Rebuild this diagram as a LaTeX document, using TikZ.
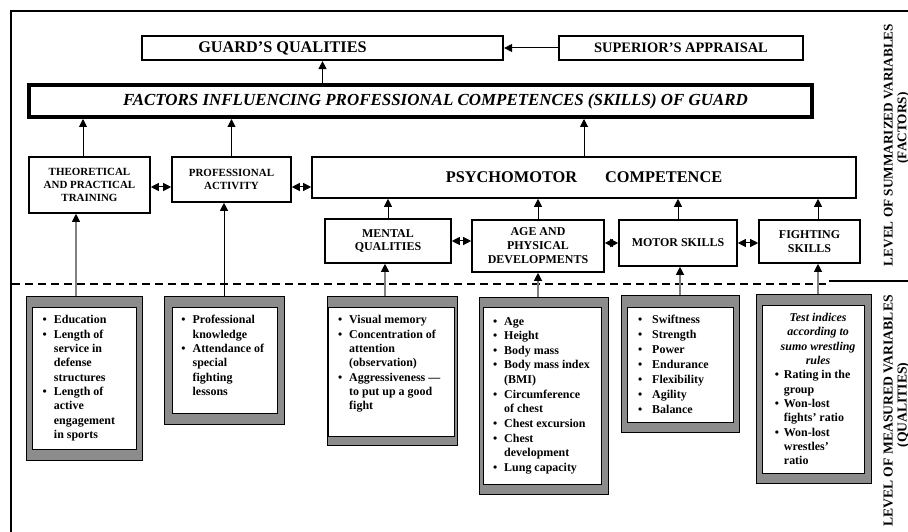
\documentclass[tikz,border=0pt]{standalone}
\usepackage{fontspec}
\setmainfont{Liberation Serif}
\usepackage{tikz}
\usetikzlibrary{arrows.meta, positioning}

\tikzset{
  box/.style={draw, line width=1.6bp, align=center, inner sep=0pt},
  head/.style={box, font=\bfseries\fontsize{11}{13}\selectfont},
  part/.style={box, font=\bfseries\fontsize{12}{14}\selectfont},
  up/.style={-{Triangle[length=8bp,width=8bp]}, line width=1bp},
  feed/.style={-{Triangle[length=8bp,width=8bp,color=black]}, line width=1.1bp, black!50},
  both/.style={{Triangle[length=8bp,width=8bp]}-{Triangle[length=8bp,width=8bp]}, line width=1bp},
  frame/.style={draw, line width=0.9bp, fill=black!45, inner sep=0pt},
  sheet/.style={draw, line width=0.9bp, fill=white, inner sep=0pt},
  list/.style={anchor=north west, inner sep=0pt, font=\bfseries\fontsize{12}{14.4}\selectfont},
  level/.style={rotate=90, align=center, inner sep=0pt},
}

\begin{document}
\begin{tikzpicture}[x=1bp, y=-1bp]
\useasboundingbox (0,0) rectangle (908,532);
% frame and the border between the two levels
\draw[line width=2bp] (11,532) -- (11,11) -- (908,11);
\draw[line width=2bp, dash pattern=on 8bp off 5bp] (12,284) -- (828,284);
\draw[line width=2.2bp] (829,281) -- (908,281);

% level of summarized variables
\node[box, line width=2.2bp, minimum width=361bp, minimum height=24bp, font=\bfseries\fontsize{16.3}{19}\selectfont] (guard) at (322.5,48) {GUARD'S QUALITIES\hspace*{80bp}};
\node[box, line width=2.2bp, minimum width=244bp, minimum height=24bp, font=\bfseries\fontsize{14.5}{17}\selectfont] (sup) at (681,48) {SUPERIOR'S APPRAISAL};
\node[box, line width=4bp, minimum width=783bp, minimum height=32bp, font=\bfseries\itshape\fontsize{17}{20}\selectfont] (fac) at (420.5,101) {\hspace*{30bp}FACTORS INFLUENCING PROFESSIONAL COMPETENCES (SKILLS) OF GUARD};

\node[head, minimum width=121bp, minimum height=56bp] (theo) at (89.5,185) {THEORETICAL\\AND PRACTICAL\\TRAINING};
\node[head, minimum width=119bp, minimum height=45bp] (prof) at (231.5,179.5) {PROFESSIONAL\\ACTIVITY};
\node[box, minimum width=544bp, minimum height=41bp, font=\bfseries\fontsize{16.4}{19}\selectfont] (psy) at (584,177.5) {PSYCHOMOTOR\hspace{28bp}COMPETENCE};

\node[part, minimum width=126bp, minimum height=44bp] (ment) at (388,241) {MENTAL\\QUALITIES};
\node[part, minimum width=132bp, minimum height=52bp] (age) at (538,246) {AGE AND\\PHYSICAL\\DEVELOPMENTS};
\node[part, minimum width=118bp, minimum height=46bp] (mot) at (678,243) {MOTOR SKILLS};
\node[part, minimum width=101bp, minimum height=43bp] (fig) at (809.5,241.5) {FIGHTING\\SKILLS};

\node[level, font=\bfseries\fontsize{13.3}{14}\selectfont] (lvsum) at (896.5,145) {\bfseries LEVEL OF SUMMARIZED VARIABLES\\\bfseries\hspace*{34bp}(FACTORS)};
\node[level, font=\bfseries\fontsize{13.7}{14}\selectfont] (lvmes) at (896.5,411) {\bfseries LEVEL OF MEASURED VARIABLES\\\bfseries\hspace*{12bp}(QUALITIES)};

% level of measured variables
\node[frame, minimum width=116bp, minimum height=164bp] (b1) at (84,378) {};
\node[sheet, minimum width=104bp, minimum height=142bp] (b1i) at (b1.center) {};
\node[list] (l1) at ([xshift=11bp,yshift=-7bp]b1i.north west) {\begin{tabular}{@{}l@{\hspace{7bp}}l@{}}
\textbullet & Education\\
\textbullet & Length of\\
 & service in\\
 & defense\\
 & structures\\
\textbullet & Length of\\
 & active\\
 & engagement\\
 & in sports
\end{tabular}};

\node[frame, minimum width=120bp, minimum height=128bp] (b2) at (224,360) {};
\node[sheet, minimum width=105bp, minimum height=106bp] (b2i) at (224.5,360) {};
\node[list] (l2) at ([xshift=9.7bp,yshift=-7bp]b2i.north west) {\begin{tabular}{@{}l@{\hspace{7bp}}l@{}}
\textbullet & Professional\\
 & knowledge\\
\textbullet & Attendance of\\
 & special\\
 & fighting\\
 & lessons
\end{tabular}};

\node[frame, minimum width=130bp, minimum height=149bp] (b3) at (392,370.5) {};
\node[sheet, minimum width=126bp, minimum height=129bp] (b3i) at (391,371.5) {};
\node[list] (l3) at ([xshift=10.3bp,yshift=-7bp]b3i.north west) {\begin{tabular}{@{}l@{\hspace{7bp}}l@{}}
\textbullet & Visual memory\\
\textbullet & Concentration of\\
 & attention\\
 & (observation)\\
\textbullet & Aggressiveness ---\\
 & to put up a good\\
 & fight
\end{tabular}};

\node[frame, minimum width=129bp, minimum height=197bp] (b4) at (543.5,395.5) {};
\node[sheet, minimum width=118bp, minimum height=177bp] (b4i) at (542,395.5) {};
\node[list, font=\bfseries\fontsize{12}{14.7}\selectfont] (l4) at ([xshift=10.3bp,yshift=-8bp]b4i.north west) {\begin{tabular}{@{}l@{\hspace{7bp}}l@{}}
\textbullet & Age\\
\textbullet & Height\\
\textbullet & Body mass\\
\textbullet & Body mass index\\
 & (BMI)\\
\textbullet & Circumference\\
 & of chest\\
\textbullet & Chest excursion\\
\textbullet & Chest\\
 & development\\
\textbullet & Lung capacity
\end{tabular}};

\node[frame, minimum width=118bp, minimum height=137bp] (b5) at (680,363.5) {};
\node[sheet, minimum width=106bp, minimum height=115bp] (b5i) at (680,364.5) {};
\node[list, font=\bfseries\fontsize{12}{15}\selectfont] (l5) at ([xshift=11.3bp,yshift=-6.5bp]b5i.north west) {\begin{tabular}{@{}l@{\hspace{10bp}}l@{}}
\textbullet & Swiftness\\
\textbullet & Strength\\
\textbullet & Power\\
\textbullet & Endurance\\
\textbullet & Flexibility\\
\textbullet & Agility\\
\textbullet & Balance
\end{tabular}};

\node[frame, minimum width=115bp, minimum height=189bp] (b6) at (813.5,388.5) {};
\node[sheet, minimum width=102bp, minimum height=168bp] (b6i) at (813,389) {};
\node[list] (l6) at ([xshift=13bp,yshift=-6.6bp]b6i.north west) {\begin{tabular}{@{}l@{\hspace{5bp}}l@{}}
\multicolumn{2}{c}{\itshape Test indices}\\
\multicolumn{2}{c}{\itshape according to}\\
\multicolumn{2}{c}{\itshape sumo wrestling}\\
\multicolumn{2}{c}{\itshape rules}\\
\textbullet & Rating in the\\
 & group\\
\textbullet & Won-lost\\
 & fights' ratio\\
\textbullet & Won-lost\\
 & wrestles'\\
 & ratio
\end{tabular}};

% links upwards
\draw[up] (sup.west) -- (guard.east);
\draw[up] (guard.south |- fac.north) -- (guard.south);
\draw[up] ([xshift=-6.5bp]theo.north) -- ([xshift=-6.5bp]theo.north |- fac.south);
\draw[up] (prof.north) -- (prof.north |- fac.south);
\draw[up] (psy.north) -- (psy.north |- fac.south);
\draw[up] (ment.north) -- (ment.north |- psy.south);
\draw[up] (age.north) -- (age.north |- psy.south);
\draw[up] (mot.north) -- (mot.north |- psy.south);
\draw[up] ([xshift=8.5bp]fig.north) -- ([xshift=8.5bp]fig.north |- psy.south);
% links inside a row
\draw[both] ([yshift=-2bp]theo.east) -- ([yshift=-2bp]theo.east -| prof.west);
\draw[both] ([yshift=-2bp]theo.east -| prof.east) -- ([yshift=-2bp]theo.east -| psy.west);
\draw[both] (ment.east) -- (ment.east -| age.west);
\draw[both] (mot.west -| age.east) -- (mot.west);
\draw[both] (mot.east) -- (mot.east -| fig.west);
% measured variables feed the factors
\draw[feed] ([xshift=-8bp]b1.north) -- ([xshift=-8bp]b1.north |- theo.south);
\draw[up] (b2.north) -- (b2.north |- prof.south);
\draw[feed] ([xshift=-7bp]b3.north) -- ([xshift=-7bp]b3.north |- ment.south);
\draw[feed] ([xshift=-5.5bp]b4.north) -- ([xshift=-5.5bp]b4.north |- age.south);
\draw[feed] (b5.north) -- (b5.north |- mot.south);
\draw[feed] ([xshift=4.5bp]b6.north) -- ([xshift=4.5bp]b6.north |- fig.south);
\end{tikzpicture}
\end{document}
